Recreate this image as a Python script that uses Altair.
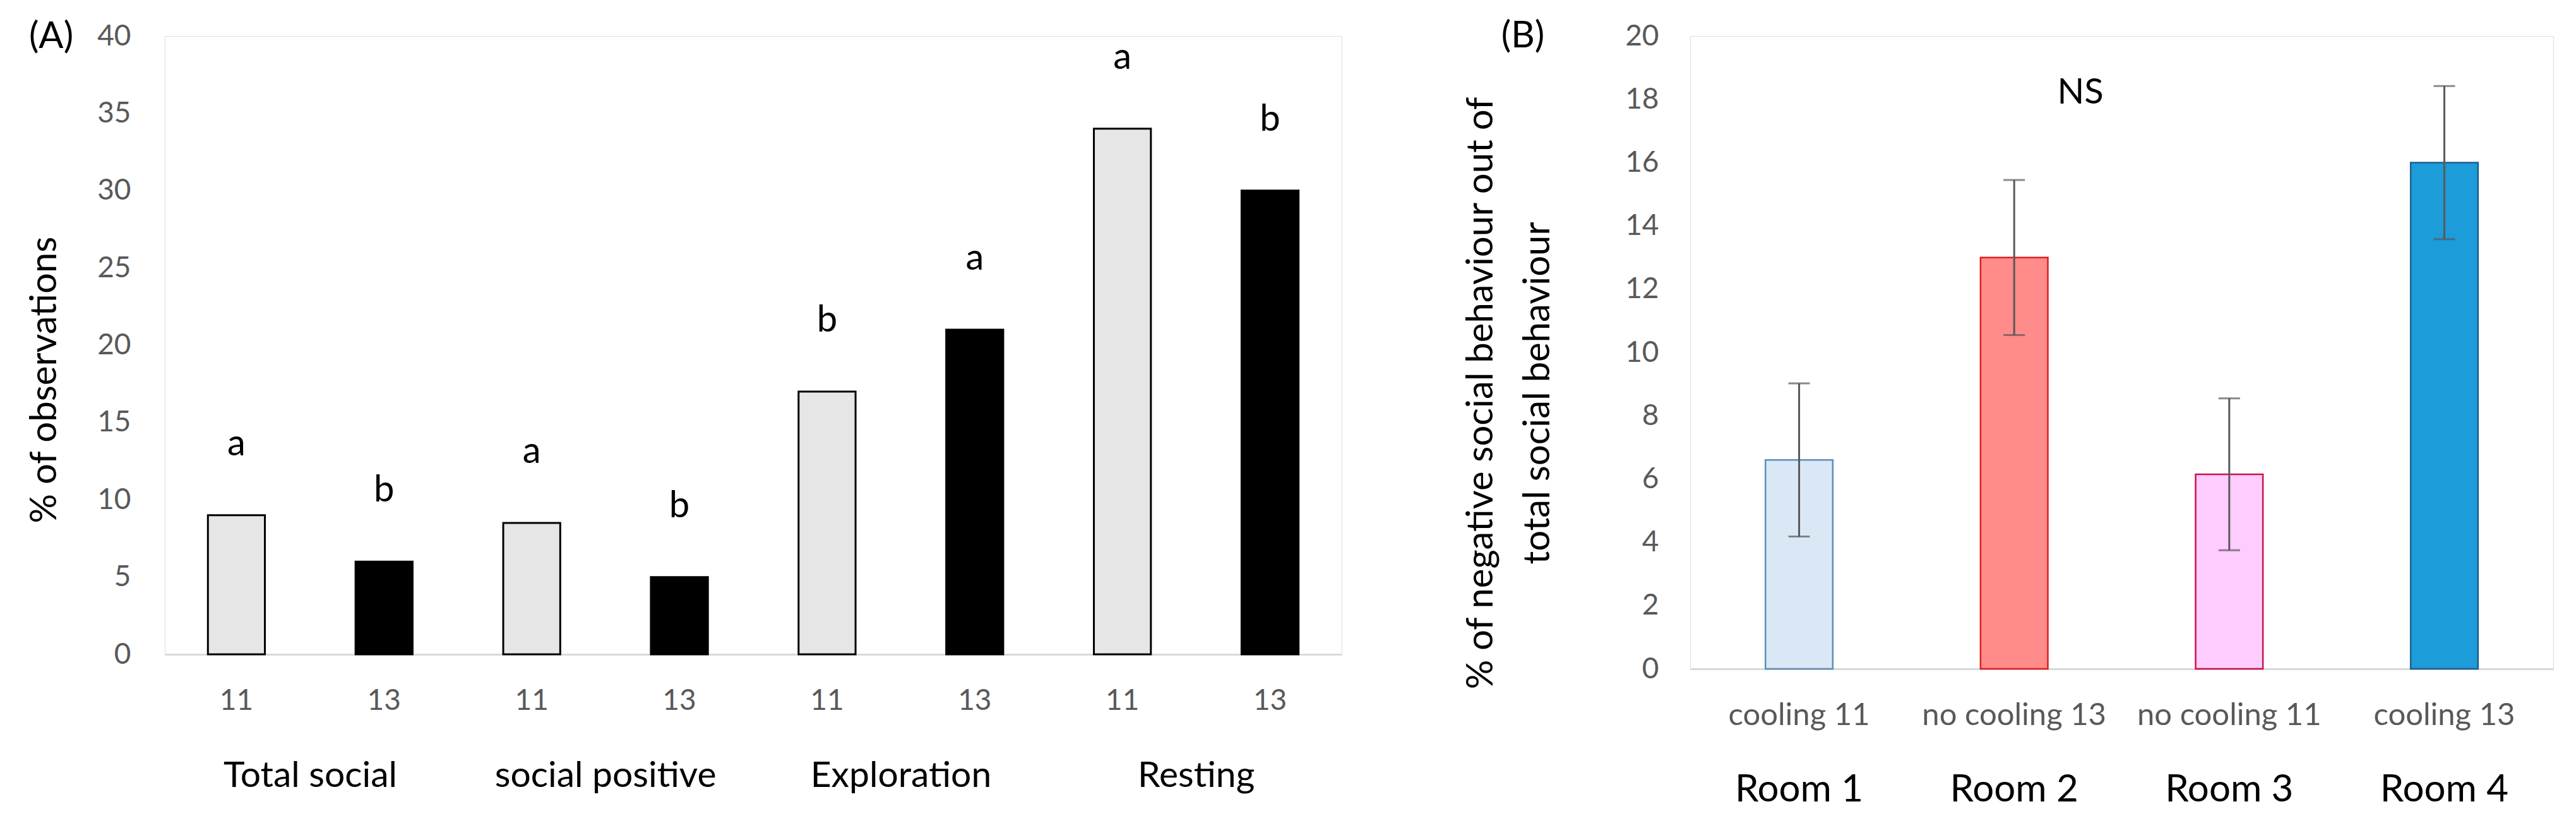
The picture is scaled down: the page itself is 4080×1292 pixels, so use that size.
import altair as alt
import pandas as pd

# ---------------- Panel A data ----------------
groups_a = ["Total social", "Total social", "social positive", "social positive",
            "Exploration", "Exploration", "Resting", "Resting"]
temps_a = ["11", "13", "11", "13", "11", "13", "11", "13"]
values_a = [9.0, 6.0, 8.5, 5.0, 17.0, 21.0, 34.0, 30.0]
letters_a = ["a", "b", "a", "b", "b", "a", "a", "b"]
yticks_a = [0, 5, 10, 15, 20, 25, 30, 35, 40]

# ---------------- Panel B data ----------------
rooms_b = ["Room 1", "Room 2", "Room 3", "Room 4"]
treat_b = ["cooling 11", "no cooling 13", "no cooling 11", "cooling 13"]
means_b = [6.6, 13.0, 6.15, 16.0]
errs_b = [2.42, 2.45, 2.4, 2.42]
fills_b = ["#DAE8F6", "#FF8B8B", "#FFCCFF", "#1C9CD8"]
strokes_b = ["#5E8DB8", "#DD1E1E", "#CC1048", "#1F5E8C"]
yticks_b = [0, 2, 4, 6, 8, 10, 12, 14, 16, 18, 20]

FONT = "Lato"
TICK_GRAY = "#595959"

keys_a = [f"{g}|{t}" for g, t in zip(groups_a, temps_a)]
df_a = pd.DataFrame({"key": keys_a, "group": groups_a, "temp": temps_a,
                     "value": values_a, "letter": letters_a})

x_a = alt.X("key:N", sort=keys_a, title=None,
            scale=alt.Scale(paddingInner=0.614, paddingOuter=0.292),
            axis=alt.Axis(labelExpr="split(datum.value, '|')[1]", labelAngle=0,
                          labelFont=FONT, labelFontSize=46, labelColor=TICK_GRAY,
                          labelPadding=73, labelBaseline="middle", labelLimit=0,
                          ticks=False, tickSize=0, domain=True,
                          domainColor="#D9D9D9", domainWidth=3, grid=False))
y_a = alt.Y("value:Q", scale=alt.Scale(domain=[0, 40], nice=False),
            axis=alt.Axis(values=yticks_a, domain=False, ticks=False, tickSize=0,
                          grid=False, labelFont=FONT, labelFontSize=46,
                          labelColor=TICK_GRAY, labelPadding=54,
                          title="% of observations", titleFont=FONT,
                          titleFontSize=58, titleFontWeight="normal",
                          titleColor="#000000", titleAngle=270,
                          titleAlign="center", titleBaseline="alphabetic",
                          titleX=-173, titleY=544))

base_a = alt.Chart(df_a)
bars_a = base_a.mark_bar(stroke="#000000", strokeWidth=3).encode(
    x=x_a, y=y_a,
    color=alt.Color("temp:N", scale=alt.Scale(domain=["11", "13"],
                                              range=["#E6E6E6", "#000000"]),
                    legend=None),
)
letters_layer_a = base_a.mark_text(font=FONT, fontSize=58, color="#000000",
                                   baseline="alphabetic", dy=-95).encode(
    x=alt.X("key:N", sort=keys_a), y="value:Q", text="letter:N")
group_layer_a = base_a.transform_filter("datum.temp == '11'").mark_text(
    font=FONT, fontSize=57, color="#000000", baseline="alphabetic", dx=117
).encode(x=alt.X("key:N", sort=keys_a), y=alt.value(1189), text="group:N")
tag_a = base_a.transform_filter("datum.key == 'Total social|11'").mark_text(
    font=FONT, fontSize=58, color="#000000", baseline="middle", align="center"
).encode(x=alt.value(-180), y=alt.value(2), text=alt.value("(A)"))

chart_a = alt.layer(bars_a, letters_layer_a, group_layer_a, tag_a).properties(
    width=1864, height=979)

# ---------------- Panel B ----------------
df_b = pd.DataFrame({"room": rooms_b, "treat": treat_b, "mean": means_b,
                     "err": errs_b})
df_b["lo"] = df_b["mean"] - df_b["err"]
df_b["hi"] = df_b["mean"] + df_b["err"]

x_b = alt.X("treat:N", sort=treat_b, title=None,
            scale=alt.Scale(paddingInner=0.687, paddingOuter=0.35),
            axis=alt.Axis(labelAngle=0, labelFont=FONT, labelFontSize=49,
                          labelColor=TICK_GRAY, labelPadding=73, labelLimit=0,
                          labelBaseline="middle", ticks=False, tickSize=0,
                          domain=True, domainColor="#D9D9D9", domainWidth=3,
                          grid=False))
y_b = alt.Y("mean:Q", scale=alt.Scale(domain=[0, 20], nice=False),
            axis=alt.Axis(values=yticks_b, domain=False, ticks=False, tickSize=0,
                          grid=False, labelFont=FONT, labelFontSize=46,
                          labelColor=TICK_GRAY, labelPadding=50,
                          title=["% of negative social behaviour out of",
                                 "total social behaviour"],
                          titleFont=FONT, titleFontSize=58,
                          titleFontWeight="normal", titleColor="#000000",
                          titleAngle=270, titleAlign="center",
                          titleBaseline="alphabetic", titleLineHeight=90,
                          titleX=-314, titleY=565))

base_b = alt.Chart(df_b)
bars_b = base_b.mark_bar(strokeWidth=2.5).encode(
    x=x_b, y=y_b,
    fill=alt.Fill("treat:N", scale=alt.Scale(domain=treat_b, range=fills_b),
                  legend=None),
    stroke=alt.Stroke("treat:N", scale=alt.Scale(domain=treat_b, range=strokes_b),
                      legend=None),
)
err_rule = base_b.mark_rule(color="#595959", strokeWidth=3).encode(
    x=alt.X("treat:N", sort=treat_b), y="lo:Q", y2="hi:Q")
cap_lo = base_b.mark_tick(color="#595959", thickness=3, size=34).encode(
    x=alt.X("treat:N", sort=treat_b), y="lo:Q")
cap_hi = base_b.mark_tick(color="#595959", thickness=3, size=34).encode(
    x=alt.X("treat:N", sort=treat_b), y="hi:Q")
room_layer = base_b.mark_text(font=FONT, fontSize=60, color="#000000",
                              baseline="alphabetic").encode(
    x=alt.X("treat:N", sort=treat_b), y=alt.value(1212), text="room:N")
ns_layer = base_b.transform_filter("datum.room == 'Room 1'").mark_text(
    font=FONT, fontSize=56, color="#000000", baseline="alphabetic", align="center"
).encode(x=alt.value(618), y=alt.value(107), text=alt.value("NS"))
tag_b = base_b.transform_filter("datum.room == 'Room 1'").mark_text(
    font=FONT, fontSize=58, color="#000000", baseline="middle", align="center"
).encode(x=alt.value(-265), y=alt.value(1), text=alt.value("(B)"))

chart_b = alt.layer(bars_b, err_rule, cap_lo, cap_hi, room_layer, ns_layer,
                    tag_b).properties(width=1367, height=1002)

chart = alt.hconcat(chart_a, chart_b, spacing=190).resolve_scale(
    x="independent", y="independent", color="independent"
).properties(
    padding={"left": 33, "top": 20, "right": 5, "bottom": 5}
).configure_view(stroke=None).configure(background="#ffffff")

chart.save("out.html", embed_options={"renderer": "svg", "actions": False})
